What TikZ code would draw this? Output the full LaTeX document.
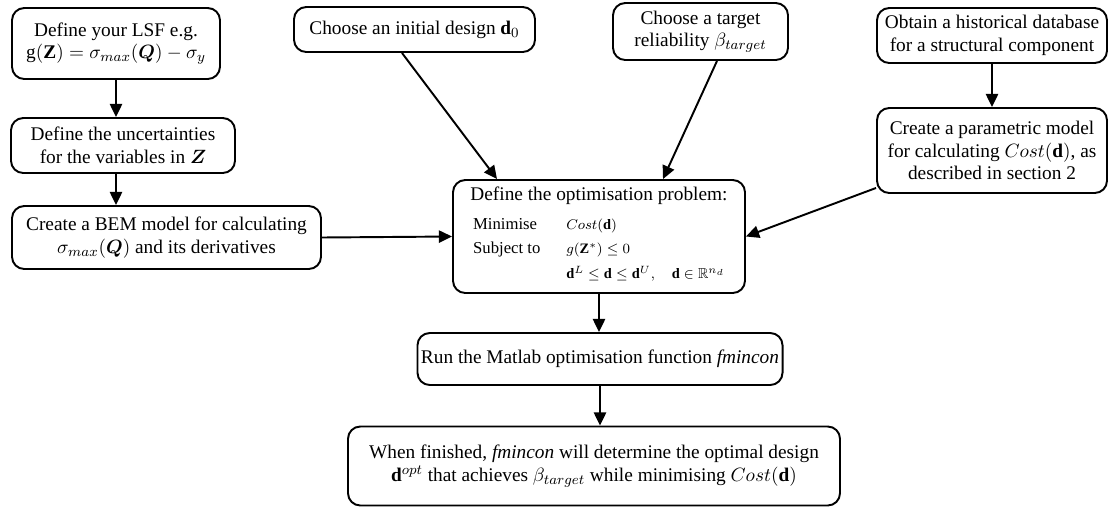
\documentclass[tikz,border=0pt]{standalone}
\usepackage{fontspec}
\setmainfont{Liberation Serif}
\usepackage{amssymb}
\usepackage{bm}
\usetikzlibrary{arrows.meta}

\def\px{0.02cm}
\def\tabfont{\fontsize{9.5}{14}\selectfont}
\def\tabmath{\fontsize{8.2}{14}\selectfont}

\begin{document}
\begin{tikzpicture}[x=\px, y=-\px,
	box/.style={draw, line width=1.1pt, rounded corners=7pt, align=center, inner sep=2pt,
		font=\fontsize{11}{12.8}\selectfont},
	arr/.style={line width=1.1pt, -{Triangle[length=7.5pt, width=7pt]}}]

\path [use as bounding box] (0,0) rectangle (1110,508);

% LEFT COLUMN
\node [box, minimum width=208*\px, minimum height=71*\px] (lsf) at (116,43.5)
	{Define your LSF e.g.\\ $\mathrm{g}(\mathbf{Z}) = \sigma_{max}(\bm{Q}) - \sigma_y$};
\node [box, minimum width=224*\px, minimum height=55*\px] (unc) at (123,145.5)
	{Define the uncertainties\\ for the variables in $\bm{Z}$};
\node [box, minimum width=309*\px, minimum height=63*\px] (bem) at (166.5,237.5)
	{Create a BEM model for calculating\\ $\sigma_{max}(\bm{Q})$ and its derivatives};

% TOP ROW
\node [box, minimum width=241*\px, minimum height=45*\px] (init) at (414.5,29.5)
	{Choose an initial design $\mathbf{d}_0$};
\node [box, minimum width=175*\px, minimum height=57*\px] (target) at (700.5,31.5)
	{Choose a target\\ reliability $\beta_{target}$};

% RIGHT COLUMN
\node [box, minimum width=230*\px, minimum height=55*\px] (hist) at (992,35.5)
	{Obtain a historical database\\ for a structural component};
\node [box, minimum width=230*\px, minimum height=85*\px] (param) at (992,150.5)
	{Create a parametric model\\ for calculating $Cost(\mathbf{d})$, as\\ described in section 2};

% CENTRE
\node [box, minimum width=292*\px, minimum height=113*\px] (opt) at (599,236.5)
	{Define the optimisation problem:\\[3pt]
	{\tabfont\begin{tabular}{@{}p{53pt}@{}l@{}}
		Minimise & \tabmath$Cost(\mathbf{d})$\\
		Subject to & \tabmath$g(\mathbf{Z}^*) \le 0$\\
		& \tabmath$\mathbf{d}^L \le \mathbf{d} \le \mathbf{d}^U, \quad \mathbf{d} \in \mathbb{R}^{n_d}$
	\end{tabular}}};
\node [box, minimum width=364*\px, minimum height=52*\px] (run) at (600,359)
	{Run the Matlab optimisation function \textit{fmincon}};
\node [box, minimum width=492*\px, minimum height=79*\px] (fin) at (594,466)
	{When finished, \textit{fmincon} will determine the optimal design\\
	$\mathbf{d}^{opt}$ that achieves $\beta_{target}$ while minimising $Cost(\mathbf{d})$};

% ARROWS
\draw [arr] (lsf.south) -- (lsf.south |- unc.north);
\draw [arr] (lsf.south |- unc.south) -- (lsf.south |- bem.north);
\draw [arr] (bem.east) -- (opt.west);
\draw [arr] ([xshift=-12.5*\px]init.south) -- ([xshift=-102*\px]opt.north);
\draw [arr] ([xshift=16.5*\px]target.south) -- ([xshift=64*\px]opt.north);
\draw [arr] (hist.south) -- (param.north);
\draw [arr] ([yshift=6*\px]param.south west) -- (opt.east);
\draw [arr] (opt.south) -- (opt.south |- run.north);
\draw [arr] (run.south) -- (run.south |- fin.north);

\end{tikzpicture}
\end{document}
